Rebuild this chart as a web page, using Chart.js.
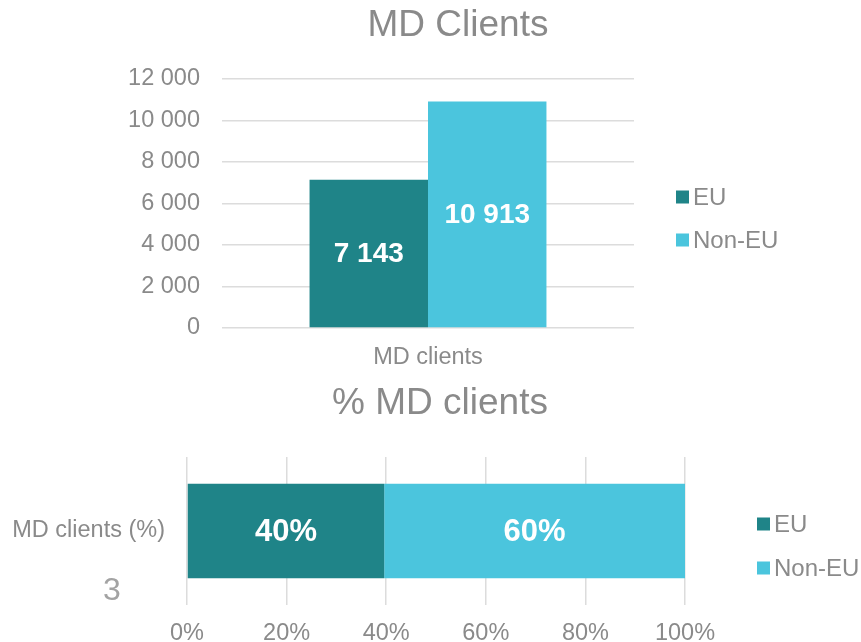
<!DOCTYPE html>
<html>
<head>
<meta charset="utf-8">
<script src="https://cdn.jsdelivr.net/npm/chart.js@4/dist/chart.umd.min.js"></script>
<style>
  html, body { margin: 0; padding: 0; background: #ffffff; }
  #wrap { position: relative; width: 861px; height: 642px; overflow: hidden; }
  #top { position: absolute; left: 0; top: 0; }
  #bottom { position: absolute; left: 0; top: 380px; }
</style>
</head>
<body>
<div id="wrap">
  <canvas id="top" width="861" height="380"></canvas>
  <canvas id="bottom" width="861" height="262"></canvas>
</div>
<script>
// ---- data ----
const categories = ['MD clients'];
const pctCategories = ['MD clients (%)'];
const seriesNames = ['EU', 'Non-EU'];
const euCount = [7143];
const nonEuCount = [10913];
const euPct = [39.6];
const nonEuPct = [60.4];
const yTicksMax = 12000;
const yTickStep = 2000;
const pctTickStep = 20;
const topTitle = 'MD Clients';
const bottomTitle = '% MD clients';
const pageNumber = '3';

const EU_COLOR = '#1f8488';
const NONEU_COLOR = '#4bc5dd';
const GREY = '#8a8a8a';
const FONT = "'Liberation Sans', Arial, sans-serif";

function fmtThousands(v) {
  return String(Math.round(v)).replace(/\B(?=(\d{3})+(?!\d))/g, ' ');
}

const overlayPlugin = {
  id: 'overlay',
  afterDatasetsDraw(chart, args, opts) {
    const ctx = chart.ctx;
    ctx.save();
    // data labels
    chart.data.datasets.forEach((ds, i) => {
      const meta = chart.getDatasetMeta(i);
      meta.data.forEach((el, j) => {
        const c = el.getCenterPoint();
        ctx.fillStyle = '#ffffff';
        ctx.font = 'bold ' + opts.labelSize + 'px ' + FONT;
        ctx.textAlign = 'center';
        ctx.textBaseline = 'middle';
        ctx.fillText(opts.fmt(ds.data[j]), c.x, c.y + 1);
      });
    });
    // title
    ctx.fillStyle = GREY;
    ctx.font = opts.titleSize + 'px ' + FONT;
    ctx.textAlign = 'center';
    ctx.textBaseline = 'middle';
    ctx.fillText(opts.title, opts.titleX, opts.titleY);
    // legend
    ctx.font = '24px ' + FONT;
    ctx.textAlign = 'left';
    chart.data.datasets.forEach((ds, i) => {
      const cy = opts.legendY[i];
      ctx.fillStyle = ds.backgroundColor;
      ctx.fillRect(opts.legendX, cy - 6.5, 13, 13);
      ctx.fillStyle = GREY;
      ctx.fillText(ds.label, opts.legendX + 17, cy + 1);
    });
    if (opts.extraText) {
      ctx.fillStyle = '#a3a3a3';
      ctx.font = '32px ' + FONT;
      ctx.textAlign = 'center';
      ctx.fillText(opts.extraText, opts.extraX, opts.extraY);
    }
    ctx.restore();
  }
};

Chart.defaults.font.family = FONT;
Chart.defaults.color = GREY;

new Chart(document.getElementById('top'), {
  type: 'bar',
  data: {
    labels: categories,
    datasets: [
      { label: seriesNames[0], data: euCount, backgroundColor: EU_COLOR },
      { label: seriesNames[1], data: nonEuCount, backgroundColor: NONEU_COLOR }
    ]
  },
  options: {
    responsive: false,
    animation: false,
    devicePixelRatio: 1,
    layout: { padding: { left: 0, top: 79, right: 227, bottom: 0 } },
    datasets: { bar: { categoryPercentage: 0.575, barPercentage: 1.0 } },
    scales: {
      x: {
        grid: { display: false, drawTicks: false },
        border: { display: false },
        ticks: { font: { size: 23.5 }, color: GREY, padding: 15 },
        afterFit(s) { s.height = 52; }
      },
      y: {
        min: 0, max: yTicksMax,
        grid: { color: '#dcdcdc', lineWidth: 1.5, drawTicks: false },
        border: { display: false },
        ticks: { stepSize: yTickStep, font: { size: 23.5 }, color: GREY, padding: 22,
                 callback: v => fmtThousands(v) },
        afterFit(s) { s.width = 222; }
      }
    },
    plugins: {
      legend: { display: false },
      tooltip: { enabled: false },
      overlay: {
        labelSize: 28, fmt: fmtThousands,
        title: topTitle, titleSize: 37, titleX: 458, titleY: 26,
        legendX: 676, legendY: [197, 240]
      }
    }
  },
  plugins: [overlayPlugin]
});

new Chart(document.getElementById('bottom'), {
  type: 'bar',
  data: {
    labels: pctCategories,
    datasets: [
      { label: seriesNames[0], data: euPct, backgroundColor: EU_COLOR },
      { label: seriesNames[1], data: nonEuPct, backgroundColor: NONEU_COLOR }
    ]
  },
  options: {
    indexAxis: 'y',
    responsive: false,
    animation: false,
    devicePixelRatio: 1,
    layout: { padding: { left: 0, top: 77, right: 176, bottom: 0 } },
    datasets: { bar: { categoryPercentage: 0.64, barPercentage: 1.0 } },
    scales: {
      x: {
        stacked: true, min: 0, max: 100,
        grid: { color: '#dcdcdc', lineWidth: 1.5, drawTicks: false },
        border: { display: false },
        ticks: { stepSize: pctTickStep, font: { size: 23.5 }, color: GREY, padding: 14,
                 callback: v => v + '%' },
        afterFit(s) { s.height = 37; }
      },
      y: {
        stacked: true,
        grid: { display: false, drawTicks: false },
        border: { display: false },
        ticks: { font: { size: 23.5 }, color: GREY, padding: 22 },
        afterFit(s) { s.width = 187; }
      }
    },
    plugins: {
      legend: { display: false },
      tooltip: { enabled: false },
      overlay: {
        labelSize: 31, fmt: v => Math.round(v) + '%',
        title: bottomTitle, titleSize: 37, titleX: 440, titleY: 24,
        legendX: 757, legendY: [144, 188],
        extraText: pageNumber, extraX: 112, extraY: 211
      }
    }
  },
  plugins: [overlayPlugin]
});
</script>
</body>
</html>
